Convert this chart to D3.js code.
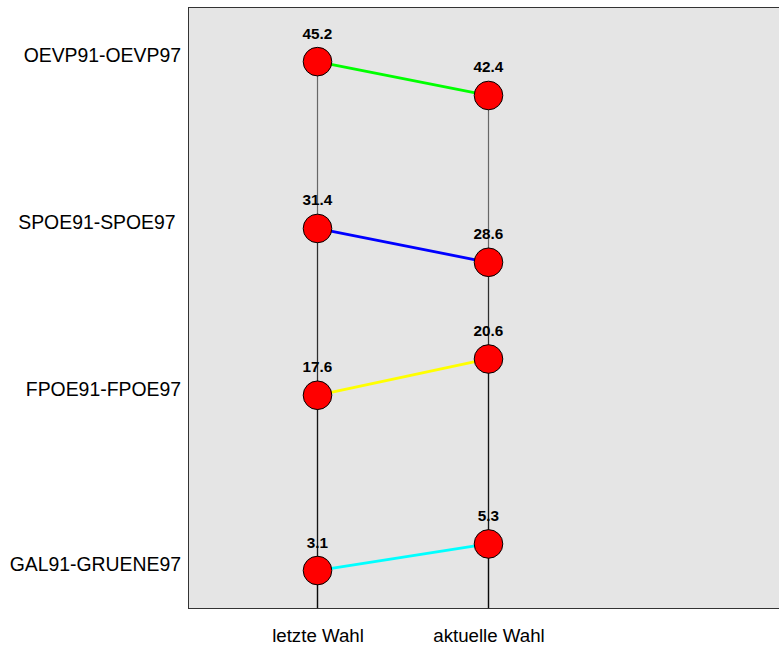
<!DOCTYPE html>
<html>
<head>
<meta charset="utf-8">
<script src="https://cdn.jsdelivr.net/npm/d3@7"></script>
<style>
  html, body { margin: 0; padding: 0; background: #fff; }
  svg { display: block; }
  text { font-family: "Liberation Sans", Arial, Helvetica, sans-serif; }
</style>
</head>
<body>
<svg id="chart" width="779" height="645"></svg>
<script>
// ---- data ----
const categories = ["OEVP91-OEVP97", "SPOE91-SPOE97 ", "FPOE91-FPOE97", "GAL91-GRUENE97"];
const lastElection = [45.2, 31.4, 17.6, 3.1];
const currentElection = [42.4, 28.6, 20.6, 5.3];
const lineColors = ["#00ff00", "#0000ff", "#ffff00", "#00ffff"];
const xLabels = ["letzte Wahl", "aktuelle Wahl"];

// ---- layout ----
const plot = { left: 188, top: 7, bottom: 608, right: 800 };
const svg = d3.select("#chart");

const maxV = d3.max(lastElection.concat(currentElection));
const y = d3.scaleLinear().domain([0, maxV * 1.1]).range([plot.bottom, plot.top]);
const x = d3.scaleLinear().domain([1, 2]).range([317, 488]);

// background panel
svg.append("rect")
  .attr("x", plot.left + 0.5).attr("y", plot.top + 0.5)
  .attr("width", plot.right - plot.left).attr("height", plot.bottom - plot.top)
  .attr("fill", "#e5e5e5").attr("stroke", "#333").attr("stroke-width", 1);

// vertical drop lines from bottom to each point (overlapping -> darker)
const gDrop = svg.append("g");
[lastElection, currentElection].forEach((vals, j) => {
  vals.forEach(v => {
    gDrop.append("line")
      .attr("x1", Math.round(x(j + 1)) + 0.5).attr("x2", Math.round(x(j + 1)) + 0.5)
      .attr("y1", plot.bottom).attr("y2", y(v))
      .attr("stroke", "#000").attr("stroke-opacity", 0.55).attr("stroke-width", 1.2);
  });
});

// slope lines
categories.forEach((c, i) => {
  svg.append("line")
    .attr("x1", x(1)).attr("y1", y(lastElection[i]))
    .attr("x2", x(2)).attr("y2", y(currentElection[i]))
    .attr("stroke", lineColors[i]).attr("stroke-width", 2.8);
});

// points and value labels
[lastElection, currentElection].forEach((vals, j) => {
  vals.forEach(v => {
    svg.append("circle")
      .attr("cx", x(j + 1) + 0.5).attr("cy", y(v)).attr("r", 14.3)
      .attr("fill", "#ff0000").attr("stroke", "#000").attr("stroke-width", 1);
    svg.append("text")
      .attr("x", x(j + 1) + 0.5).attr("y", y(v) - 23)
      .attr("text-anchor", "middle")
      .attr("font-size", 15.3).attr("font-weight", "bold")
      .attr("fill", "#000")
      .text(d3.format(".1f")(v));
  });
});

// category labels on left
categories.forEach((c, i) => {
  svg.append("text")
    .attr("x", 181).attr("y", y(lastElection[i]) - 6)
    .attr("dy", "0.35em")
    .attr("text-anchor", "end")
    .attr("font-size", 19.4)
    .attr("fill", "#000")
    .style("white-space", "pre")
    .text(c);
});

// x labels
xLabels.forEach((t, j) => {
  svg.append("text")
    .attr("x", x(j + 1) + 1).attr("y", 642)
    .attr("text-anchor", "middle")
    .attr("font-size", 18.7)
    .attr("fill", "#000")
    .text(t);
});
</script>
</body>
</html>
